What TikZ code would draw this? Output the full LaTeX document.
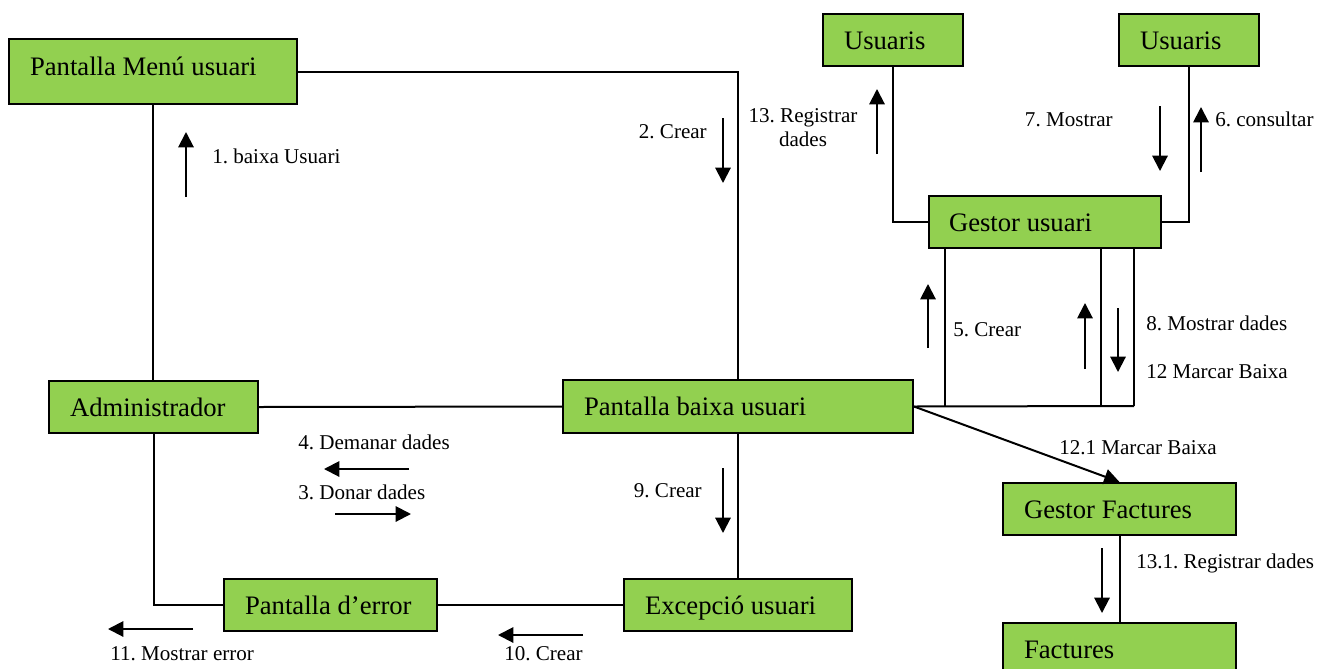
\documentclass[tikz,border=0pt]{standalone}
\usepackage{fontspec}
\setmainfont{Liberation Serif}
\frenchspacing
\usetikzlibrary{arrows.meta}
\definecolor{boxgreen}{HTML}{92D050}
\begin{document}
\begin{tikzpicture}[x=0.75pt,y=-0.75pt,
  box/.style={draw, fill=boxgreen, line width=1.5pt, inner xsep=15.75pt, inner ysep=0pt,
    minimum height=39pt, anchor=north west, text height=14pt, text depth=0pt,
    font=\fontsize{20}{24}\selectfont},
  conn/.style={line width=1.5pt},
  msg/.style={line width=1.5pt, -{Triangle[length=11.5pt,width=11.5pt]}},
  lab/.style={inner sep=0pt, font=\fontsize{15.8}{18}\selectfont}]
\useasboundingbox (0,0) rectangle (1328,668);
\clip (0,0) rectangle (1328,668);
% boxes
\node[box, minimum height=48.75pt, text depth=8pt] (menu) at (8,38) {\makebox[184.5pt][l]{Pantalla Menú usuari}};
\node[box] (usuarisL) at (822,13) {\makebox[73.5pt][l]{Usuaris}};
\node[box] (usuarisR) at (1118,13) {\makebox[73.5pt][l]{Usuaris}};
\node[box, inner xsep=15pt] (gestor) at (928,195) {\makebox[144pt][l]{Gestor usuari}};
\node[box] (admin) at (48,380) {\makebox[125.25pt][l]{Administrador}};
\node[box, minimum height=39.75pt] (baixa) at (562,379) {\makebox[231pt][l]{Pantalla baixa usuari}};
\node[box] (error) at (223,578) {\makebox[128.25pt][l]{Pantalla d’error}};
\node[box] (excep) at (623,578) {\makebox[139.5pt][l]{Excepció usuari}};
\node[box] (gfact) at (1002,482) {\makebox[143.25pt][l]{Gestor Factures}};
\node[box] (fact) at (1002,622) {\makebox[143.25pt][l]{Factures}};
% connectors
\draw[conn] (menu.east) -| (baixa.north);
\draw[conn] (menu.south) -- (menu.south |- admin.north);
\draw[conn] (admin.east) -- (baixa.west);
\draw[conn] (admin.south) |- (error.west);
\draw[conn] (error.east) -- (excep.west);
\draw[conn] (baixa.south) -- (excep.north);
\draw[conn] (usuarisL.south) |- (gestor.west);
\draw[conn] (usuarisR.south) |- (gestor.east);
\coordinate (g1) at (945,406);
\coordinate (g2) at (1101,406);
\coordinate (g3) at (1134,406);
\draw[conn] (baixa.east) -- (g3);
\draw[conn] (gestor.south -| g1) -- (g1);
\draw[conn] (gestor.south -| g2) -- (g2);
\draw[conn] (gestor.south -| g3) -- (g3);
\draw[msg] (baixa.east) -- (gfact.north);
\draw[conn] (gfact.south) -- (fact.north);
% labels
\node[lab, anchor=base west] (l1) at (212,163) {1. baixa Usuari};
\node[lab, anchor=base east] (l2) at (707,138) {2. Crear};
\node[lab, align=center] (l13) at (803,128) {13. Registrar\\dades};
\node[lab, anchor=base east] (l7) at (1113,126) {7. Mostrar};
\node[lab, anchor=base west] (l6) at (1215,126) {6. consultar};
\node[lab, anchor=base west] (l5) at (953,336) {5. Crear};
\node[lab, anchor=base west] (l8) at (1146,330) {8. Mostrar dades};
\node[lab, anchor=base west] (l12) at (1146,378) {12 Marcar Baixa};
\node[lab, anchor=base west] (l4) at (298,449) {4. Demanar dades};
\node[lab, anchor=base west] (l3) at (298,499) {3. Donar dades};
\node[lab, anchor=base west] (l11) at (110,660) {11. Mostrar error};
\node[lab, anchor=base east] (l9) at (702,497) {9. Crear};
\node[lab, anchor=base west] (l10) at (504,660) {10. Crear};
\node[lab, anchor=base west] (l121) at (1059,454) {12.1 Marcar Baixa};
\node[lab, anchor=base west] (l131) at (1136,568) {13.1. Registrar dades};
% message arrows
\draw[msg] (186,197) -- (186,132);
\draw[msg] (723,118) -- (723,183);
\draw[msg] (877,154) -- (877,89);
\draw[msg] (1160,106) -- (1160,171);
\draw[msg] (1201,172) -- (1201,107);
\draw[msg] (928,348) -- (928,284);
\draw[msg] (1085,369) -- (1085,303);
\draw[msg] (1118,308) -- (1118,372);
\draw[msg] (409,469) -- (324,469);
\draw[msg] (335,514) -- (411,514);
\draw[msg] (193,629) -- (108,629);
\draw[msg] (723,468) -- (723,533);
\draw[msg] (583,635) -- (498,635);
\draw[msg] (1102,548) -- (1102,613);
\end{tikzpicture}
\end{document}
